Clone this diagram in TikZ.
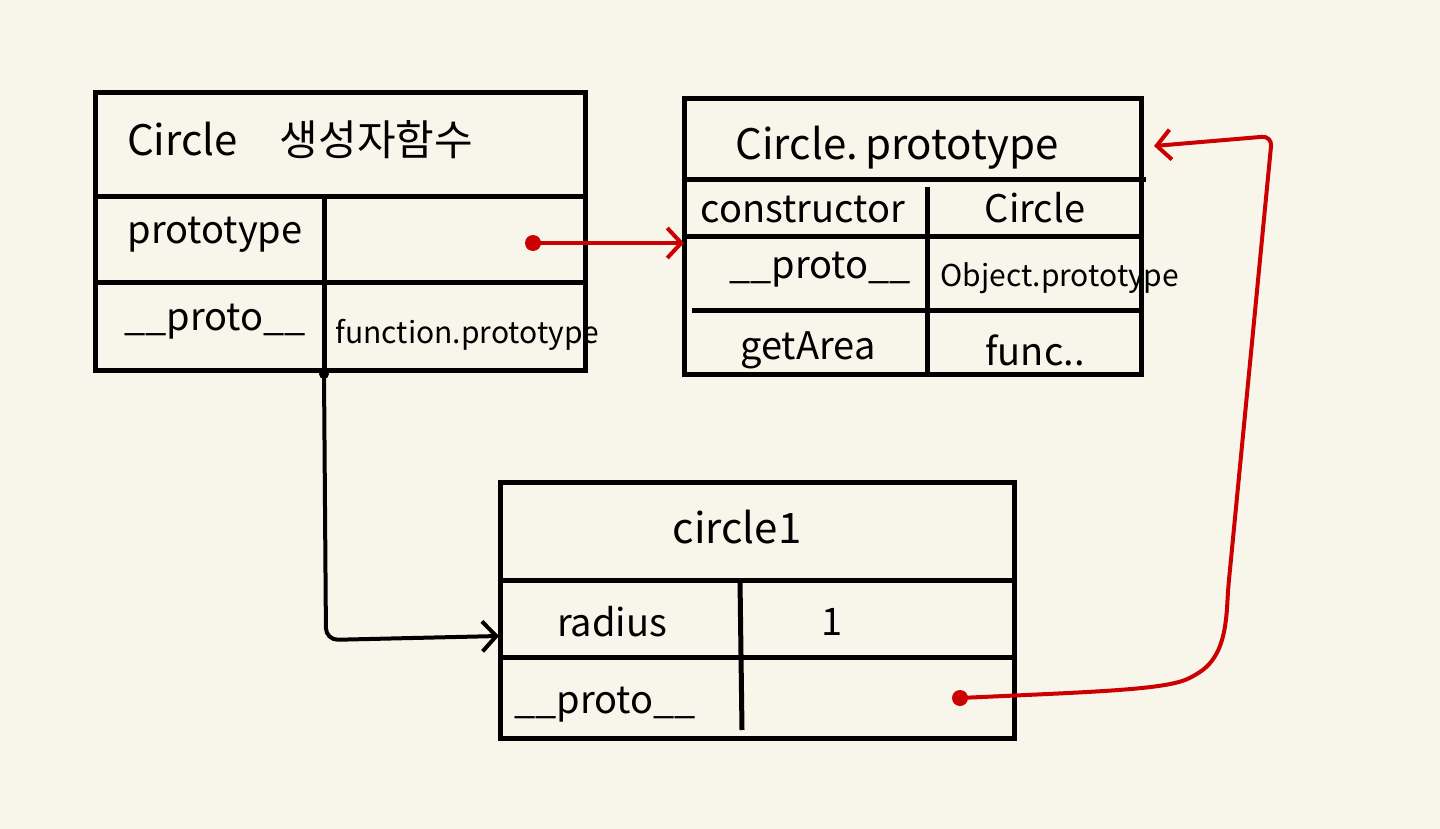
\documentclass[tikz,border=0pt]{standalone}
\usepackage{fontspec}
\setmainfont{Noto Sans CJK KR}
\usetikzlibrary{arrows.meta,positioning}
\definecolor{paper}{RGB}{248,246,235}
\definecolor{pen}{RGB}{204,0,0}

\begin{document}
\begin{tikzpicture}[x=1pt,y=-1pt,line width=5pt,
  cell/.style={inner sep=0pt,font=\fontsize{38}{42}\selectfont},
  small/.style={inner sep=0pt,anchor=west,font=\fontsize{30}{34}\selectfont},
  title/.style={inner sep=0pt,font=\fontsize{42}{46}\selectfont},
  link/.style={line width=4pt,-{Straight Barb[length=14pt,width=30pt]}},
  dot/.style={circle,fill,inner sep=0pt,minimum size=#1},
  dot/.default=16pt]
\fill [paper] (0,0) rectangle (1440,829);
\useasboundingbox (0,0) rectangle (1440,829);

% Circle constructor
\draw (95,93) rectangle (585,370);
\draw (95,197) -- (585,197);
\draw (95,282) -- (585,282);
\draw (324,197) -- (324,370);
\node [title] (ctorTitle) at (300,140) {Circle\quad 생성자함수};
\node [cell] (ctorProtoKey) at (215,235) {prototype};
\node [cell] (ctorLinkKey) at (215,322) {\_\_proto\_\_};
\node [small] (ctorLinkVal) at (333,335) {function.prototype};

% Circle.prototype
\draw (684,99) rectangle (1141,374);
\draw (684,180) -- (1146,180);
\draw (684,236) -- (1141,236);
\draw (692,310) -- (1141,310);
\draw (927,187) -- (927,376);
\node [title] (protoTitle) at (897,148) {Circle.\,prototype};
\node [cell] (protoCtorKey) at (803,210) {constructor};
\node [cell] (protoCtorVal) at (1035,208) {Circle};
\node [cell] (protoLinkKey) at (820,270) {\_\_proto\_\_};
\node [small] (protoLinkVal) at (938,278) {Object.prototype};
\node [cell] (protoAreaKey) at (808,350) {getArea};
\node [cell] (protoAreaVal) at (1035,350) {func..};

% circle1
\draw (500,482) rectangle (1014,738);
\draw (500,580) -- (1014,580);
\draw (500,657) -- (1016,657);
\draw (740,580) -- (742,730);
\node [title] (instTitle) at (737,527) {circle1};
\node [cell] (instRadKey) at (612,622) {radius};
\node [cell] (instRadVal) at (832,622) {1};
\node [cell] (instLinkKey) at (605,705) {\_\_proto\_\_};

% links
\coordinate (ctorDot) at (533,243);
\coordinate (protoLeft) at (684,243);
\coordinate (fnDot) at (324,374);
\coordinate (instLeft) at (499,636);
\coordinate (instDot) at (960,698);
\coordinate (protoRight) at (1154,146);

\node [dot, pen] at (ctorDot) {};
\draw [link, pen] (ctorDot) -- (protoLeft);
\node [dot=10pt] at (fnDot) {};
\draw [link, rounded corners=12pt] (fnDot) -- (326,640) -- (instLeft);
\node [dot, pen] at (instDot) {};
\draw [link, pen, rounded corners=10pt] (instDot) .. controls (1090,692) and (1160,690) .. (1195,676)
  .. controls (1222,655) and (1226,630) .. (1228,590) -- (1272,136) -- (protoRight);
\end{tikzpicture}
\end{document}
